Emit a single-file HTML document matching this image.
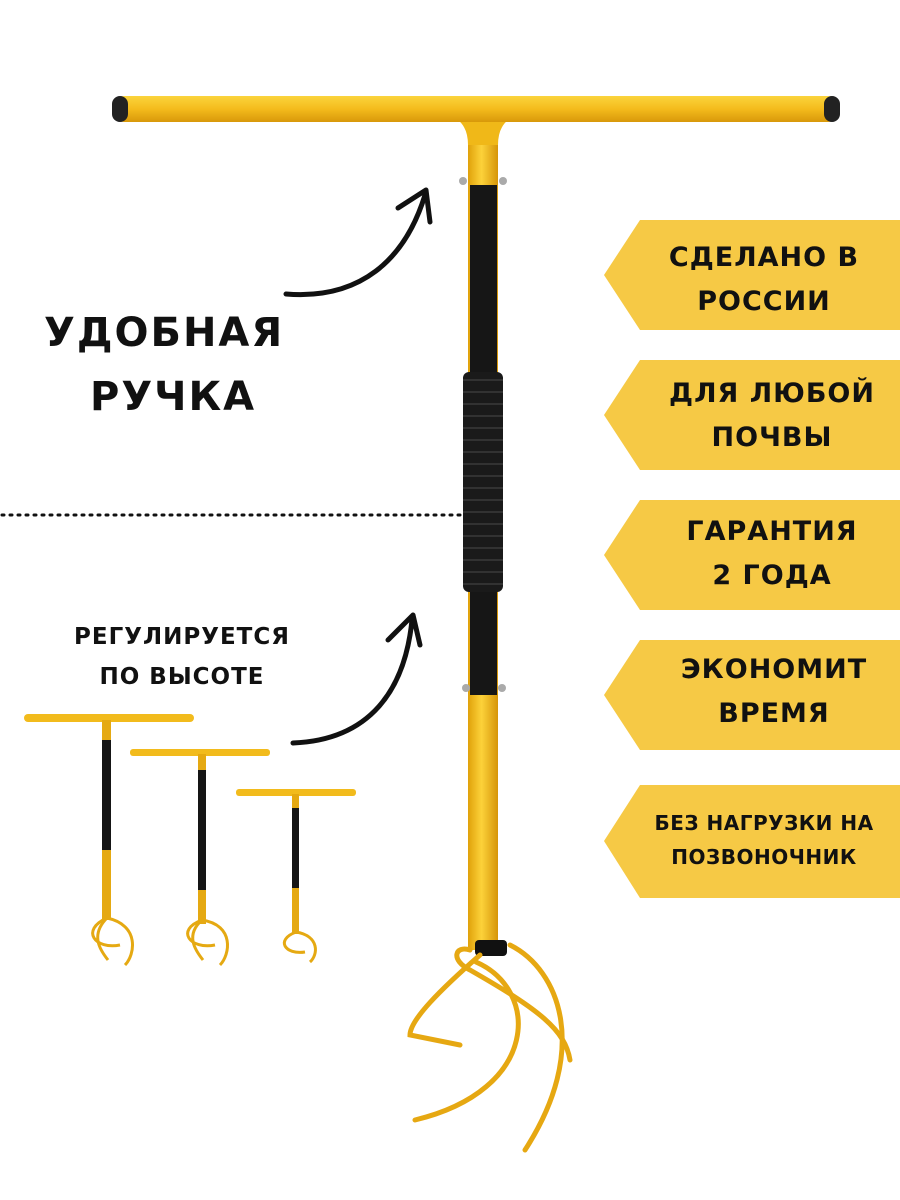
<!DOCTYPE html>
<html><head><meta charset="utf-8"><style>
body{margin:0;background:#fff}
svg{display:block}
text{font-family:"DejaVu Sans","Liberation Sans",sans-serif;font-weight:bold;fill:#111}
</style></head><body>
<svg width="900" height="1200" viewBox="0 0 900 1200" xmlns="http://www.w3.org/2000/svg">
<defs>
<linearGradient id="y" x1="0" y1="0" x2="1" y2="0"><stop offset="0" stop-color="#e0a10a"/><stop offset="0.45" stop-color="#fcd23a"/><stop offset="1" stop-color="#d69508"/></linearGradient>
<linearGradient id="yh" x1="0" y1="0" x2="0" y2="1"><stop offset="0" stop-color="#fbd43c"/><stop offset="0.5" stop-color="#f4bb1c"/><stop offset="1" stop-color="#d8980a"/></linearGradient>
</defs>
<g fill="#f6c945">
<polygon points="640,220 900,220 900,330 640,330 604,275"/>
<polygon points="640,360 900,360 900,470 640,470 604,415"/>
<polygon points="640,500 900,500 900,610 640,610 604,555"/>
<polygon points="640,640 900,640 900,750 640,750 604,695"/>
<polygon points="640,785 900,785 900,898 640,898 604,841"/>
</g>
<g font-size="27" text-anchor="middle" letter-spacing="1">
<text x="764" y="266">СДЕЛАНО В</text><text x="764" y="310">РОССИИ</text>
<text x="772" y="402">ДЛЯ ЛЮБОЙ</text><text x="772" y="446">ПОЧВЫ</text>
<text x="772" y="540">ГАРАНТИЯ</text><text x="772" y="584">2 ГОДА</text>
<text x="774" y="678">ЭКОНОМИТ</text><text x="774" y="722">ВРЕМЯ</text>
</g>
<g font-size="20" text-anchor="middle" letter-spacing="0.5"><text x="764" y="830">БЕЗ НАГРУЗКИ НА</text><text x="764" y="864">ПОЗВОНОЧНИК</text></g>
<text x="44" y="346" font-size="40" letter-spacing="2">УДОБНАЯ</text>
<text x="90" y="410" font-size="40" letter-spacing="2">РУЧКА</text>
<text x="182" y="644" font-size="23" text-anchor="middle" letter-spacing="1">РЕГУЛИРУЕТСЯ</text>
<text x="182" y="684" font-size="23" text-anchor="middle" letter-spacing="1">ПО ВЫСОТЕ</text>
<line x1="2" y1="515" x2="468" y2="515" stroke="#111" stroke-width="3" stroke-dasharray="2 6" stroke-linecap="round"/>
<g fill="none" stroke="#111" stroke-width="5" stroke-linecap="round" stroke-linejoin="round">
<path d="M286 294 C360 300 405 260 425 195"/><path d="M398 208 L426 190 L430 222"/>
<path d="M293 743 C370 740 405 690 412 620"/><path d="M388 640 L413 615 L420 645"/>
</g>
<rect x="468" y="120" width="30" height="830" fill="url(#y)"/>
<path d="M458 120 Q483 114 508 120 Q498 128 498 145 L468 145 Q468 128 458 120 Z" fill="#f0b818"/>
<rect x="112" y="96" width="728" height="26" rx="12" fill="url(#yh)"/>
<rect x="112" y="96" width="16" height="26" rx="8" fill="#222"/>
<rect x="824" y="96" width="16" height="26" rx="8" fill="#222"/>
<rect x="470" y="185" width="27" height="510" fill="#161616"/>
<rect x="463" y="372" width="40" height="220" rx="6" fill="#1a1a1a"/>
<g stroke="#3a3a3a" stroke-width="1.5">
<path d="M463 380 H503 M463 392 H503 M463 404 H503 M463 416 H503 M463 428 H503 M463 440 H503 M463 452 H503 M463 464 H503 M463 476 H503 M463 488 H503 M463 500 H503 M463 512 H503 M463 524 H503 M463 536 H503 M463 548 H503 M463 560 H503 M463 572 H503 M463 584 H503"/>
</g>
<circle cx="463" cy="181" r="4" fill="#aaa"/><circle cx="503" cy="181" r="4" fill="#aaa"/>
<circle cx="466" cy="688" r="4" fill="#aaa"/><circle cx="502" cy="688" r="4" fill="#aaa"/>
<rect x="475" y="940" width="32" height="16" rx="4" fill="#111"/>
<g fill="none" stroke="#e6a812" stroke-width="5" stroke-linecap="round">
<path d="M480 955 C440 990 410 1020 410 1035 L460 1045"/>
<path d="M470 950 C455 945 450 960 470 970 C540 1010 565 1030 570 1060"/>
<path d="M476 962 C540 990 540 1090 415 1120"/>
<path d="M510 945 C560 970 590 1050 525 1150"/>
</g>
<g>
<rect x="24" y="714" width="170" height="8" rx="4" fill="#f2bb1c"/>
<rect x="102" y="720" width="9" height="200" fill="#e5a912"/>
<rect x="102" y="740" width="9" height="110" fill="#151515"/>
<path d="M107 918 C80 930 95 950 120 945 M107 918 C140 925 135 955 125 965 M107 918 C90 935 100 950 108 960" fill="none" stroke="#e5a912" stroke-width="3"/>
<rect x="130" y="749" width="140" height="7" rx="3" fill="#f2bb1c"/>
<rect x="198" y="754" width="8" height="170" fill="#e5a912"/>
<rect x="198" y="770" width="8" height="120" fill="#151515"/>
<path d="M202 920 C175 930 190 950 215 945 M202 920 C235 925 230 955 220 965 M202 920 C185 935 195 950 203 960" fill="none" stroke="#e5a912" stroke-width="3"/>
<rect x="236" y="789" width="120" height="7" rx="3" fill="#f2bb1c"/>
<rect x="292" y="794" width="7" height="140" fill="#e5a912"/>
<rect x="292" y="808" width="7" height="80" fill="#151515"/>
<path d="M296 932 C275 940 285 955 305 952 M296 932 C320 936 318 955 310 962" fill="none" stroke="#e5a912" stroke-width="3"/>
</g>
</svg>
</body></html>
